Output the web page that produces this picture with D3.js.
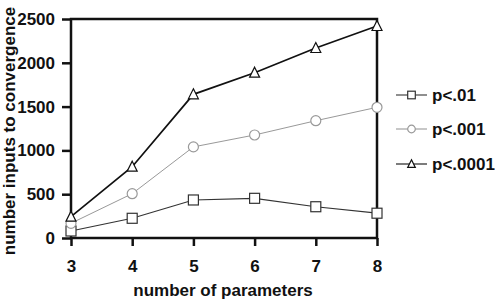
<!DOCTYPE html>
<html>
<head>
<meta charset="utf-8">
<script src="https://cdn.jsdelivr.net/npm/d3@7"></script>
<style>
  body { margin: 0; background: #fff; }
  svg text { font-family: "Liberation Sans", Arial, sans-serif; font-weight: bold; fill: #111; }
</style>
</head>
<body>
<svg id="chart" width="495" height="300"></svg>
<script>
const params = [3, 4, 5, 6, 7, 8];
const p01 = [80, 225, 434, 453, 357, 283];
const p001 = [168, 506, 1040, 1176, 1339, 1492];
const p0001 = [243, 814, 1640, 1887, 2169, 2420];
const yTicks = [0, 500, 1000, 1500, 2000, 2500];
const seriesNames = ["p<.01", "p<.001", "p<.0001"];

const series = [
  {name: seriesNames[0], values: p01, shape: "square", stroke: "#333", width: 1.2},
  {name: seriesNames[1], values: p001, shape: "circle", stroke: "#999", width: 1},
  {name: seriesNames[2], values: p0001, shape: "triangle", stroke: "#111", width: 1.7}
];

const svg = d3.select("#chart");
const margin = {top: 19, right: 118, bottom: 62, left: 71};
const w = 495 - margin.left - margin.right,
      h = 300 - margin.top - margin.bottom;

const g = svg.append("g").attr("transform", `translate(${margin.left},${margin.top})`);

const x = d3.scaleLinear().domain([3, 8]).range([0, w]);
const y = d3.scaleLinear().domain([0, 2500]).range([h, 0]);

// frame
g.append("rect").attr("width", w).attr("height", h)
  .attr("fill", "none").attr("stroke", "#111").attr("stroke-width", 2.5);

const yAxis = g.append("g").call(d3.axisLeft(y).tickValues(yTicks).tickFormat(d3.format("d")).tickSize(9).tickPadding(7));
yAxis.select(".domain").remove();
yAxis.selectAll("line").attr("stroke", "#111").attr("stroke-width", 2.5);
yAxis.selectAll("text").attr("font-size", 17);

const xAxis = g.append("g").attr("transform", `translate(0,${h})`)
  .call(d3.axisBottom(x).tickValues(params).tickFormat(d3.format("d")).tickSize(8).tickPadding(14));
xAxis.select(".domain").remove();
xAxis.selectAll("line").attr("stroke", "#111").attr("stroke-width", 2.5);
xAxis.selectAll("text").attr("font-size", 17);

// axis titles
svg.append("text").attr("x", 223).attr("y", 296).attr("text-anchor", "middle")
  .attr("font-size", 17).text("number of parameters");
svg.append("text").attr("transform", "translate(15,131) rotate(-90)").attr("text-anchor", "middle")
  .attr("font-size", 17).text("number inputs to convergence");

const line = d3.line().x((d, i) => x(params[i])).y(d => y(d));

function marker(sel, shape, stroke, r) {
  if (shape === "square") {
    sel.append("rect").attr("x", -r).attr("y", -r).attr("width", 2 * r).attr("height", 2 * r);
  } else if (shape === "circle") {
    sel.append("circle").attr("r", r);
  } else {
    sel.append("path").attr("d", `M0,${-r * 1.1}L${r},${r * 0.9}L${-r},${r * 0.9}Z`);
  }
  sel.selectAll("*").attr("fill", "#fff").attr("stroke", stroke).attr("stroke-width", 1.2);
}

series.forEach(s => {
  g.append("path").datum(s.values).attr("d", line)
    .attr("fill", "none").attr("stroke", s.stroke).attr("stroke-width", s.width);
  s.values.forEach((v, i) => {
    const m = g.append("g").attr("transform", `translate(${x(params[i])},${y(v)})`);
    marker(m, s.shape, s.stroke, 5);
  });
});

// legend
const legendY = [95, 129, 164];
series.forEach((s, i) => {
  const lg = svg.append("g").attr("transform", `translate(396,${legendY[i]})`);
  lg.append("line").attr("x1", 0).attr("x2", 31).attr("stroke", s.stroke).attr("stroke-width", 1.1);
  marker(lg.append("g").attr("transform", "translate(15.5,0)"), s.shape, s.stroke, 3.8);
  lg.append("text").attr("x", 36).attr("dy", "0.35em").attr("font-size", 17).text(s.name);
});
</script>
</body>
</html>
